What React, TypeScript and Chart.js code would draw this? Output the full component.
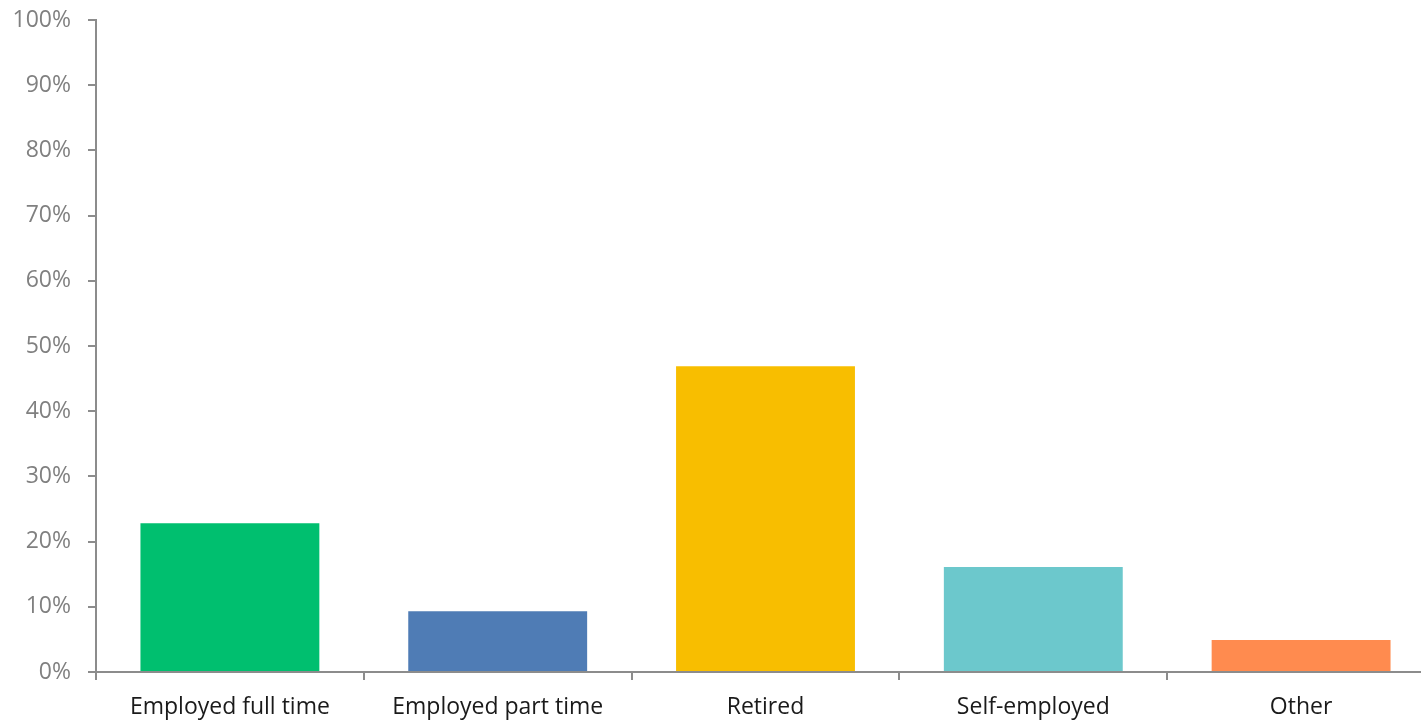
import React, { useEffect, useRef } from "react";
import { Chart, registerables } from "chart.js";

Chart.register(...registerables);

const categories = ["Employed full time", "Employed part time", "Retired", "Self-employed", "Other"];
const values = [22.8, 9.3, 46.9, 16.1, 4.9];
const barColors = ["#00BF6F", "#4F7CB5", "#F8BE00", "#6CC8CC", "#FF8B4F"];
const yTicks = [0, 10, 20, 30, 40, 50, 60, 70, 80, 90, 100];

export default function App() {
  const ref = useRef<HTMLCanvasElement | null>(null);

  useEffect(() => {
    const prevMargin = document.body.style.margin;
    document.body.style.margin = "0";
    const ctx = ref.current!;
    const chart = new Chart(ctx, {
      type: "bar",
      data: {
        labels: categories,
        datasets: [
          {
            data: values,
            backgroundColor: barColors,
            borderWidth: 0,
            categoryPercentage: 1,
            barPercentage: 0.668,
          },
        ],
      },
      options: {
        responsive: false,
        animation: false,
        layout: { padding: { top: 20, right: 5, left: 0, bottom: 0 } },
        plugins: { legend: { display: false }, tooltip: { enabled: false } },
        scales: {
          x: {
            offset: true,
            grid: {
              offset: true,
              drawOnChartArea: false,
              drawTicks: true,
              tickLength: 8,
              color: "#8c8c8c",
              lineWidth: 2,
            },
            border: { display: true, color: "#8c8c8c", width: 2 },
            ticks: {
              color: "#1a1a1a",
              font: { family: "'Open Sans'", size: 23 },
              padding: 14,
              maxRotation: 0,
              autoSkip: false,
            },
            afterFit: (scale: any) => {
              scale.height = 52;
              scale.paddingLeft = 0;
              scale.paddingRight = 0;
            },
          },
          y: {
            min: 0,
            max: 100,
            afterBuildTicks: (scale: any) => {
              scale.ticks = yTicks.map((v) => ({ value: v }));
            },
            grid: {
              drawOnChartArea: false,
              drawTicks: true,
              tickLength: 8,
              color: "#8c8c8c",
              lineWidth: 2,
            },
            border: { display: true, color: "#8c8c8c", width: 2 },
            ticks: {
              color: "#808080",
              font: { family: "'Open Sans'", size: 23 },
              padding: 17,
              callback: (v: any) => v + "%",
            },
            afterFit: (scale: any) => {
              scale.width = 96;
              scale.paddingTop = 0;
              scale.paddingBottom = 0;
            },
          },
        },
      },
    });
    return () => {
      chart.destroy();
      document.body.style.margin = prevMargin;
    };
  }, []);

  return (
    <div style={{ position: "fixed", left: 0, top: 0, width: 1421, height: 724, overflow: "hidden", background: "#fff" }}>
      <canvas ref={ref} width={1440} height={724} style={{ display: "block", width: 1440, height: 724 }} />
    </div>
  );
}
